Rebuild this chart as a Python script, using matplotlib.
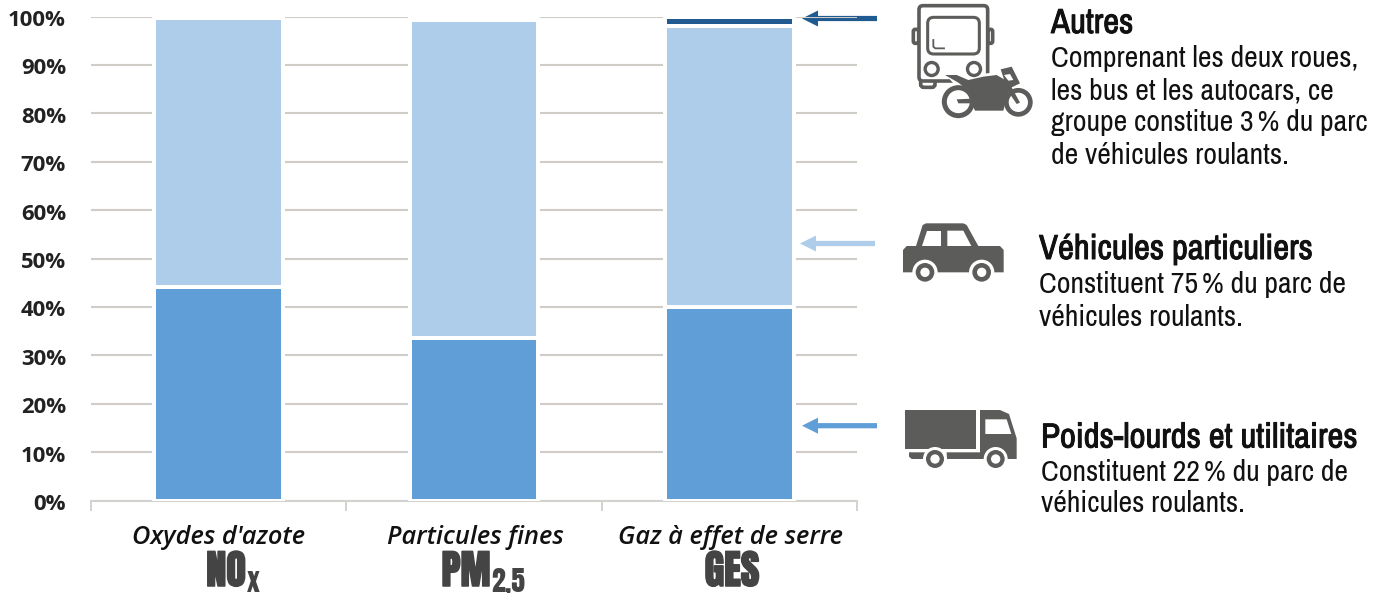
import matplotlib
matplotlib.use("Agg")
import matplotlib.pyplot as plt
import matplotlib.patheffects as pe
from matplotlib.patches import Polygon, Circle, FancyBboxPatch
from matplotlib.transforms import ScaledTranslation
from matplotlib import font_manager as fm

W, H = 1386, 593
installed = {f.name for f in fm.fontManager.ttflist}
NARROW = next((n for n in ('Liberation Sans Narrow', 'Archivo Narrow', 'PT Sans Narrow', 'Roboto Condensed', 'Liberation Sans') if n in installed), 'DejaVu Sans')
HEAVY = next((n for n in ('Anton', 'Oswald', 'Archivo Narrow', 'Liberation Sans') if n in installed), 'DejaVu Sans')

categories = ["Oxydes d'azote", "Particules fines", "Gaz à effet de serre"]
acronyms = ["NO", "PM", "GES"]
subscripts = ["x", "2,5", ""]
poids_lourds = [44.1, 33.5, 39.9]
particuliers = [55.5, 65.7, 58.2]
autres = [0.4, 0.8, 1.9]
yticks = [0, 10, 20, 30, 40, 50, 60, 70, 80, 90, 100]

C_DARK = '#1f5a91'
C_LIGHT = '#aecdea'
C_MID = '#5f9ed7'
C_ICON = '#5c5c5a'
C_TEXT = '#111111'

fig = plt.figure(figsize=(W / 100, H / 100), dpi=100, facecolor='white')
ax = fig.add_axes([91 / W, 1 - 500.5 / H, (857 - 91) / W, (500.5 - 16.5) / H])
ax.set_xlim(0, 3)
ax.set_ylim(0, 100)

xs = [0.5, 1.5, 2.5]
bw = 128.6 / 255.3
edge = dict(edgecolor='white', linewidth=4 * 0.72, zorder=3)
bottom2 = poids_lourds
bottom3 = [a + b for a, b in zip(poids_lourds, particuliers)]
ax.bar(xs, poids_lourds, bw, color=C_MID, **edge)
ax.bar(xs, particuliers, bw, bottom=bottom2, color=C_LIGHT, **edge)
ax.bar(xs, autres, bw, bottom=bottom3, color=C_DARK, **edge)

ax.set_yticks(yticks)
ax.set_yticklabels([f"{v}%" for v in yticks], fontfamily='Open Sans', fontweight='bold',
                   fontsize=15.9, color='#222222')
ax.tick_params(axis='y', length=0, pad=18)
for lab in ax.get_yticklabels():
    lab.set_transform(lab.get_transform() + ScaledTranslation(0, -1.5 / 100, fig.dpi_scale_trans))
ax.set_xticks([0, 1, 2, 3])
ax.set_xticklabels([])
ax.tick_params(axis='x', length=7.5, width=1.4, color='#d4d2ce')
ax.grid(axis='y', color='#d0ccc8', linewidth=1.5, zorder=1)
ax.set_axisbelow(True)
for s in ['top', 'left', 'right']:
    ax.spines[s].set_visible(False)
ax.spines['bottom'].set_color('#d4d2ce')
ax.spines['bottom'].set_linewidth(1.5)
ax.patch.set_alpha(0)

ov = fig.add_axes([0, 0, 1, 1], zorder=-1)
ov.set_xlim(0, W)
ov.set_ylim(H, 0)
ov.axis('off')
top = fig.add_axes([0, 0, 1, 1], zorder=5)
top.set_xlim(0, W)
top.set_ylim(H, 0)
top.axis('off')
top.patch.set_alpha(0)


def arrow(a, tip, tail, y, color, z=1):
    a.add_patch(Polygon([(tip, y), (tip + 16, y - 8), (tip + 16, y - 2.6), (tail, y - 2.6),
                         (tail, y + 2.6), (tip + 16, y + 2.6), (tip + 16, y + 8)],
                        closed=True, fc=color, ec='none', zorder=z))


arrow(ov, 802, 877, 18.5, C_DARK)
arrow(top, 800, 875, 243.5, C_LIGHT)
arrow(top, 802, 877, 425.7, C_MID)

for cx, cat, ac, sub, shift in zip([219, 475, 731], categories, acronyms, subscripts, [-7, 9, -1]):
    top.text(cx, 537.5, cat, ha='center', va='center', fontfamily='Open Sans', fontstyle='italic',
             fontweight='semibold', fontsize=18.3, color=C_TEXT)
    t = top.text(cx - shift, 571, ac, ha='center', va='center', fontfamily=HEAVY, fontsize=29,
                 color='#444444', path_effects=[pe.withStroke(linewidth=1.1, foreground='#444444')])
    if sub:
        fig.canvas.draw()
        bb = t.get_window_extent()
        top.text(bb.x1 + 1, 592, sub, ha='left', va='baseline', fontfamily=HEAVY,
                 fontsize=20, color='#444444', clip_on=False)

FS = 21.5


def block(x, title, tity, lines, ys):
    top.text(x, tity, title, fontfamily=NARROW, fontsize=25, color=C_TEXT, va='center',
             path_effects=[pe.withStroke(linewidth=0.7, foreground=C_TEXT)])
    for l, y in zip(lines, ys):
        top.text(x, y, l, fontfamily=NARROW, fontsize=FS, color=C_TEXT, va='center')


block(1051, "Autres", 23,
      ["Comprenant les deux roues,", "les bus et les autocars, ce",
       "groupe constitue 3\u2009% du parc", "de véhicules roulants."],
      [58, 91, 123, 156])
block(1039, "Véhicules particuliers", 249,
      ["Constituent 75\u2009% du parc de", "véhicules roulants."], [284, 317])
block(1041, "Poids-lourds et utilitaires", 437.5,
      ["Constituent 22\u2009% du parc de", "véhicules roulants."], [472, 504])


def z3(ox, oy):
    return lambda x, y: (ox + x / 3, oy + y / 3)


def poly(pts, f, fc=C_ICON):
    top.add_patch(Polygon([f(*p) for p in pts], closed=True, fc=fc, ec='none', zorder=6))


def wheel(f, x, y, r1, r2, r3):
    for r, c in ((r1, 'white'), (r2, C_ICON), (r3, 'white')):
        top.add_patch(Circle(f(x, y), r / 3, fc=c, ec='none', zorder=7))


f = z3(790, 210)
poly([(345, 600), (558, 600), (558, 716), (345, 716)], f)
poly([(570, 600), (630, 600), (657, 612), (680, 685), (680, 747), (470, 747), (470, 727), (570, 727)], f)
poly([(586, 628), (650, 628), (664, 672), (586, 672)], f, 'white')
poly([(357, 727), (405, 727), (400, 747), (365, 747), (357, 740)], f)
wheel(f, 435, 747, 36, 27, 14)
wheel(f, 617, 747, 36, 27, 14)

poly([(378, 108), (398, 45), (408, 40), (520, 40), (530, 45), (565, 108), (630, 108), (641, 120),
      (641, 187), (339, 187), (339, 120), (350, 108)], f)
poly([(412, 62), (452, 62), (452, 108), (397, 108)], f, 'white')
poly([(472, 62), (520, 62), (544, 108), (472, 108)], f, 'white')
wheel(f, 405, 187, 38, 28, 14)
wheel(f, 575, 187, 38, 28, 14)

f = z3(650, 0)


def rbox(x0, y0, x1, y1, r, fc='none', ec=C_ICON, lw=2.6, z=6):
    a, b = f(x0, y0), f(x1, y1)
    top.add_patch(FancyBboxPatch((a[0] + r, a[1] + r), b[0] - a[0] - 2 * r, b[1] - a[1] - 2 * r,
                                 boxstyle=f"round,pad={r},rounding_size={r}", fc=fc, ec=ec, lw=lw, zorder=z))


rbox(790, 88, 806, 130, 2)
rbox(1014, 88, 1028, 130, 2)
rbox(812, 235, 855, 262, 3)
rbox(807, 17, 1013, 243, 4, fc='white')
rbox(833, 52, 988, 162, 6, fc='white', lw=2.2)
top.plot(*zip(f(850, 120), f(850, 140), f(856, 145), f(882, 145)), color=C_ICON, lw=1.3, zorder=7)
for cx in (845, 972):
    top.add_patch(Circle(f(cx, 207), 6.5, fc='white', ec=C_ICON, lw=2.4, zorder=7))

halo = [(880, 215), (925, 215), (955, 230), (1040, 215), (1045, 200), (1095, 190), (1125, 250),
        (1155, 300), (1105, 352), (1060, 350), (925, 360), (865, 300), (920, 262)]
poly(halo, f, 'white')
for cx, cy, r, lw in ((925, 305, 14, 3.6), (1105, 307, 12, 3.4)):
    top.add_patch(Circle(f(cx, cy), r, fc='none', ec=C_ICON, lw=lw, zorder=8))
poly([(885, 225), (920, 225), (955, 240), (1000, 230), (1040, 225), (1062, 238), (1052, 208), (1085, 200),
      (1110, 250), (1085, 262), (1110, 308), (1100, 312), (1075, 275), (1060, 332), (975, 332), (965, 310),
      (925, 310), (920, 298), (965, 296), (950, 268), (925, 248)], f)
top.add_patch(Polygon([f(*p) for p in [(1062, 225), (1080, 222), (1090, 240), (1075, 242)]], closed=True,
                      fc='white', ec='none', zorder=9))

fig.savefig('out.png', dpi=100, facecolor='white')
